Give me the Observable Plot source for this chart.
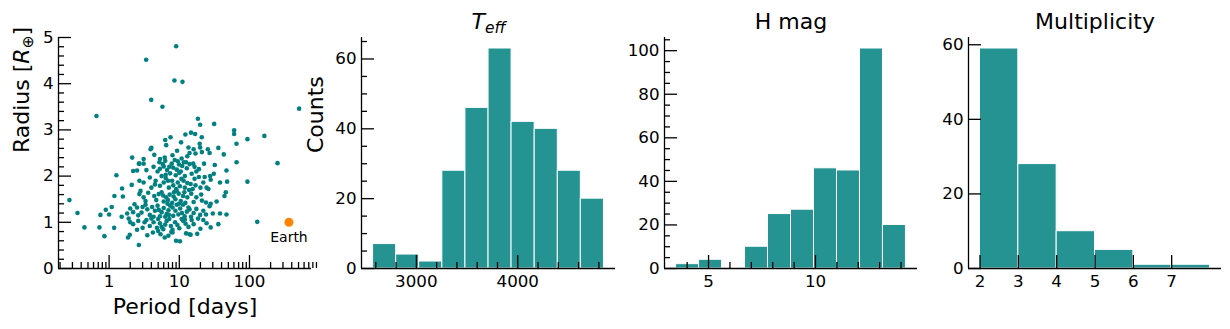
<!DOCTYPE html>
<html><head><meta charset="utf-8">
<script src="https://cdn.jsdelivr.net/npm/d3@7"></script>
<script src="https://cdn.jsdelivr.net/npm/@observablehq/plot@0.6"></script>
<style>
html,body{margin:0;padding:0;background:#fff;}
#chart{position:relative;width:1230px;height:329px;overflow:hidden;font-family:"DejaVu Sans",sans-serif;}
</style></head><body><div id="chart"></div>
<script>
// ---------- data ----------
const period = [
 0.272,0.354,0.445,0.66,0.728,0.752,0.858,0.896,1.00,1.09,
 1.18,1.27,1.19,1.51,1.57,1.53,1.81,1.86,1.97,2.13,
 2.20,2.65,3.37,3.98,5.75,8.53,11.1,9.02,18.4,19.8,
 31.4,60.4,60.4,65.3,93.5,163,251,93.5,129,510,
 65.5,36,43,47,47,38,
 6.3,6.5,7.5,9.3,10.6,12.2,14.7,16.8,20.9,13.5,16,19.5,19.8,3.9,4.0,25.5,
 3.1,5.3,6.2,8.0,10.8,13,17,27,2.7,3.1,5.2,6.3,7.8,9.5,11.6,15.8,22.5,32,4.4,21,14,
 2.5,3.4,4.3,4.9,5.3,6.0,6.7,8.2,9.2,10,12.8,15,17.5,23,27.5,31,7.4,11,14,19,8.9,5.6,6.4,12,16.5,10.5,
 2.1,2.7,3.1,3.8,4.5,5.3,6.0,6.9,8.2,9.5,10.7,12,14.5,16.5,20,22,24.5,28,38,48,6.4,7.1,11.5,13,17,19,26,9,4.0,
 2.8,2.7,3.1,3.6,4.4,5.1,5.6,6.5,7.3,8.8,9.8,11.3,13,14.8,17.5,20.5,24,28,34,46,4.7,6.0,7.9,10.5,12.2,16,3.3,44,21,9.2,
 2.0,2.3,2.5,2.9,3.3,3.5,3.8,4.5,5.3,6.0,6.6,7.4,8.8,9.7,11.3,12.8,14.7,17.5,19.8,24,30,2.6,4.1,4.9,5.6,7.0,8.2,10.3,13.5,16,22,27,3.0,9.2,14,2.2,6.3,11.9,4.3,8,
 2.0,2.2,2.6,3.0,3.4,3.8,4.3,4.8,5.3,5.9,6.6,7.6,8.7,10,11.4,13.5,16,18.5,20,22,28,36,2.5,4.0,5.0,6.3,7.2,9.4,12.3,15,8,24.5,3.2,5.6,10.8,1.9,
 2.65,3.5,5.0,5.4,6.2,7.0,8.0,9.0,10.2,12.5,14,18,4.2,7.7,14.5,
 5.8,7.2,8.6,9.9,12.5,4.6,7.9,8.4,10.2,11.8,13.8,15.5,5.9,6.9,8.3,9.9,5.1,6.8,10.9,12,7.1
];
const radius = [
 1.48,1.20,0.89,3.30,0.89,1.16,0.70,1.27,1.17,1.33,
 0.88,2.02,1.57,1.12,1.56,1.73,1.19,0.67,0.73,2.40,
 2.11,2.27,4.52,3.65,3.50,4.07,4.04,4.81,3.24,3.11,
 3.13,2.99,2.91,2.70,2.80,2.87,2.28,1.88,1.01,3.46,
 2.30,2.61,2.47,2.12,1.17,1.19,
 2.78,2.67,2.84,2.55,2.73,2.90,2.94,2.91,2.84,2.62,2.58,2.70,2.62,2.58,2.61,2.58,
 2.37,2.37,2.40,2.45,2.38,2.43,2.49,2.50,2.27,2.27,2.30,2.33,2.27,2.32,2.30,2.27,2.27,2.24,2.46,2.52,2.50,
 2.12,2.13,2.20,2.10,2.16,2.21,2.13,2.18,2.14,2.07,2.17,2.05,2.10,1.98,2.00,2.05,2.06,2.22,2.26,2.15,2.02,2.00,2.03,2.00,2.20,2.10,
 1.81,1.90,1.86,1.97,1.82,1.79,1.86,1.90,1.80,1.86,1.94,1.75,1.83,1.94,1.75,1.86,1.75,1.92,1.86,1.88,1.96,1.75,1.90,1.85,1.80,1.98,1.72,1.72,1.75,
 1.68,1.61,1.54,1.64,1.57,1.61,1.65,1.54,1.60,1.50,1.62,1.57,1.54,1.62,1.54,1.60,1.43,1.40,1.45,1.65,1.48,1.45,1.42,1.46,1.42,1.44,1.46,1.57,1.47,1.68,
 1.30,1.39,1.32,1.21,1.38,1.28,1.16,1.25,1.13,1.31,1.18,1.36,1.25,1.17,1.38,1.23,1.12,1.29,1.16,1.17,1.19,1.15,1.33,1.36,1.22,1.26,1.14,1.30,1.32,1.20,1.25,1.35,1.33,1.38,1.28,1.22,1.12,1.13,1.12,1.32,
 1.00,0.96,1.03,0.88,1.05,0.92,1.00,0.88,0.98,0.85,1.03,0.92,1.00,0.87,1.03,0.90,0.96,1.08,0.86,1.05,0.89,0.96,0.84,1.08,1.07,0.95,1.07,0.94,0.97,1.05,0.84,0.98,1.00,0.90,1.07,1.08,
 0.51,0.72,0.81,0.74,0.67,0.71,0.78,0.60,0.59,0.76,0.74,0.75,0.78,0.79,0.73,
 2.26,2.20,2.35,2.25,2.30,1.90,1.90,1.65,1.78,1.65,1.70,1.72,1.58,1.48,1.56,1.40,1.27,1.40,1.20,1.06,1.16
];
const earthLabel = ["Earth"];
const earthPeriod = [365.25];
const earthRadius = [1];

const teffEdges = [2573, 2801, 3028, 3256, 3484, 3712, 3939, 4167, 4395, 4622, 4850];
const teffCounts = [7, 4, 2, 28, 46, 63, 42, 40, 28, 20];
const hmagEdges = [3.48, 4.555, 5.63, 6.705, 7.78, 8.855, 9.93, 11.005, 12.08, 13.155, 14.23];
const hmagCounts = [2, 4, 0, 10, 25, 27, 46, 45, 101, 20];
const multEdges = [2, 3, 4, 5, 6, 7, 8];
const multCounts = [59, 28, 10, 5, 1, 1];

// tick labels
const periodTicks = [1, 10, 100];
const radiusTicks = [0, 1, 2, 3, 4, 5];
const teffTicks = [3000, 4000];
const hmagTicks = [5, 10];
const multTicks = [2, 3, 4, 5, 6, 7];
const countTicksA = [0, 20, 40, 60];
const countTicksB = [0, 20, 40, 60, 80, 100];

// ---------- style ----------
const FONT = "'DejaVu Sans', sans-serif";
const TEAL = "#008080", BAR = "rgb(38,147,147)", ORANGE = "#ff8400";
const MAJ = 13, MIN = 6, SW = 1.3, TICKFS = 16.7, LABFS = 22;
const H = 329, MT = 37, MB = 61;

const periodMinor = [];
for (const dec of [0.1, 1, 10, 100]) for (let k = 2; k <= 9; k++) periodMinor.push(+(dec * k).toPrecision(3));
const radiusMinor = d3.range(0, 26).map(i => i / 5).filter(v => !Number.isInteger(v));
const teffMinor = d3.range(2600, 4801, 200).filter(v => v % 1000 !== 0);
const hmagMinor = d3.range(4, 15).filter(v => v % 5 !== 0);
const countMinorA = d3.range(0, 66, 5).filter(v => v % 20 !== 0);
const countMinorB = d3.range(0, 106, 5).filter(v => v % 20 !== 0);

function ticksX(values, len) { return Plot.axisX(values, {tickSize: len, dy: -len, fill: "none", strokeWidth: SW, label: null}); }
function ticksY(values, len) { return Plot.axisY(values, {tickSize: len, dx: len, fill: "none", strokeWidth: SW, label: null}); }
function labelsX(values, fmt) { return Plot.axisX(values, {tickSize: 0, tickPadding: 7, tickFormat: fmt, label: null, fontSize: TICKFS, fill: "black"}); }
function labelsY(values, fmt) { return Plot.axisY(values, {tickSize: 0, tickPadding: 5, tickFormat: fmt, label: null, fontSize: TICKFS, fill: "black"}); }
const fmt = d => String(d);

function place(svg, left) {
  svg.style.position = "absolute";
  svg.style.left = left + "px";
  svg.style.top = "0px";
  svg.style.overflow = "visible";
  svg.style.background = "transparent";
  svg.style.maxWidth = "none";
  document.getElementById("chart").appendChild(svg);
  return svg;
}
const baseStyle = {fontFamily: FONT, fontSize: TICKFS + "px", color: "black", background: "transparent", overflow: "visible"};

function hist(edges, counts) {
  return Plot.rectY(d3.range(counts.length).filter(i => counts[i] > 0), {
    x1: i => edges[i], x2: i => edges[i + 1], y1: 0, y2: i => counts[i],
    fill: BAR, stroke: "white", strokeWidth: 1, inset: 0
  });
}
function title(txt) {
  return Plot.text([txt], {frameAnchor: "top", lineAnchor: "middle", dy: -16, fontSize: LABFS, fill: "black", text: d => d});
}

// ---------- panel 1: scatter ----------
const xDom1 = [0.19, 765];
const p1 = Plot.plot({
  width: 312, height: H, marginLeft: 58, marginRight: 1, marginTop: MT, marginBottom: MB,
  style: baseStyle,
  x: {type: "log", domain: xDom1},
  y: {domain: [0, 5]},
  marks: [
    Plot.dot(d3.range(period.length), {x: i => period[i], y: i => radius[i], r: 2.3, fill: TEAL, stroke: "none"}),
    Plot.dot(earthLabel, {x: earthPeriod, y: earthRadius, r: 4.5, fill: ORANGE, stroke: "none"}),
    Plot.text(earthLabel, {x: earthPeriod, y: earthRadius, text: d => d, dy: 15, fontSize: 14, fill: "black"}),
    Plot.ruleY([0], {strokeWidth: SW}),
    Plot.ruleX([xDom1[0]], {strokeWidth: SW}),
    ticksX(periodTicks, MAJ), ticksX(periodMinor, MIN), labelsX(periodTicks, fmt),
    ticksY(radiusTicks, MAJ), ticksY(radiusMinor, MIN), labelsY(radiusTicks, fmt),
    Plot.text(["Period [days]"], {frameAnchor: "bottom", lineAnchor: "middle", dy: 38.5, fontSize: LABFS, fill: "black", text: d => d}),
    Plot.text(["Radius [R⊕]"], {frameAnchor: "left", lineAnchor: "middle", rotate: -90, dx: -37, fontSize: LABFS, fill: "black", text: d => d})
  ]
});
place(p1, 0);

// ---------- panel 2: Teff ----------
const xDom2 = [2459, 4964];
const p2 = Plot.plot({
  width: 305, height: H, marginLeft: 49, marginRight: 2, marginTop: MT, marginBottom: MB,
  style: baseStyle,
  x: {domain: xDom2},
  y: {domain: [0, 66.15]},
  marks: [
    hist(teffEdges, teffCounts),
    Plot.ruleY([0], {strokeWidth: SW}),
    Plot.ruleX([xDom2[0]], {strokeWidth: SW}),
    ticksX(teffTicks, MAJ), ticksX(teffMinor, MIN), labelsX(teffTicks, fmt),
    ticksY(countTicksA, MAJ), ticksY(countMinorA, MIN), labelsY(countTicksA, fmt),
    Plot.text(["Counts"], {frameAnchor: "left", lineAnchor: "middle", rotate: -90, dx: -46, fontSize: LABFS, fill: "black", text: d => d}),
    title("Teff")
  ]
});
place(p2, 312);

// ---------- panel 3: H mag ----------
const xDom3 = [2.94, 14.77];
const p3 = Plot.plot({
  width: 302, height: H, marginLeft: 47, marginRight: 2, marginTop: MT, marginBottom: MB,
  style: baseStyle,
  x: {domain: xDom3},
  y: {domain: [0, 106.05]},
  marks: [
    hist(hmagEdges, hmagCounts),
    Plot.ruleY([0], {strokeWidth: SW}),
    Plot.ruleX([xDom3[0]], {strokeWidth: SW}),
    ticksX(hmagTicks, MAJ), ticksX(hmagMinor, MIN), labelsX(hmagTicks, fmt),
    ticksY(countTicksB, MAJ), ticksY(countMinorB, MIN), labelsY(countTicksB, fmt),
    title("H mag")
  ]
});
place(p3, 617);

// ---------- panel 4: Multiplicity ----------
const xDom4 = [1.7, 8.3];
const p4 = Plot.plot({
  width: 311, height: H, marginLeft: 49, marginRight: 9, marginTop: MT, marginBottom: MB,
  style: baseStyle,
  x: {domain: xDom4},
  y: {domain: [0, 61.95]},
  marks: [
    hist(multEdges, multCounts),
    Plot.ruleY([0], {strokeWidth: SW}),
    Plot.ruleX([xDom4[0]], {strokeWidth: SW}),
    ticksX(multTicks, MAJ), labelsX(multTicks, fmt),
    ticksY(countTicksA, MAJ), labelsY(countTicksA, fmt),
    title("Multiplicity")
  ]
});
place(p4, 919);

// ---------- rich text (italic / subscripts) ----------
function rich(svg, plain, parts) {
  d3.select(svg).selectAll("text").filter(function () { return this.textContent === plain; }).each(function () {
    const t = d3.select(this);
    t.text(null);
    for (const p of parts) {
      const s = t.append("tspan").text(p.t);
      if (p.italic) s.attr("font-style", "italic");
      if (p.size) s.attr("font-size", p.size);
      if (p.dy) s.attr("dy", p.dy);
    }
  });
}
rich(p1, "Radius [R⊕]", [{t: "Radius ["}, {t: "R", italic: true}, {t: "⊕", size: "70%", dy: "4"}, {t: "]", dy: "-4"}]);
rich(p2, "Teff", [{t: "T", italic: true}, {t: "eff", italic: true, size: "70%", dy: "4"}]);
</script>
</body></html>
